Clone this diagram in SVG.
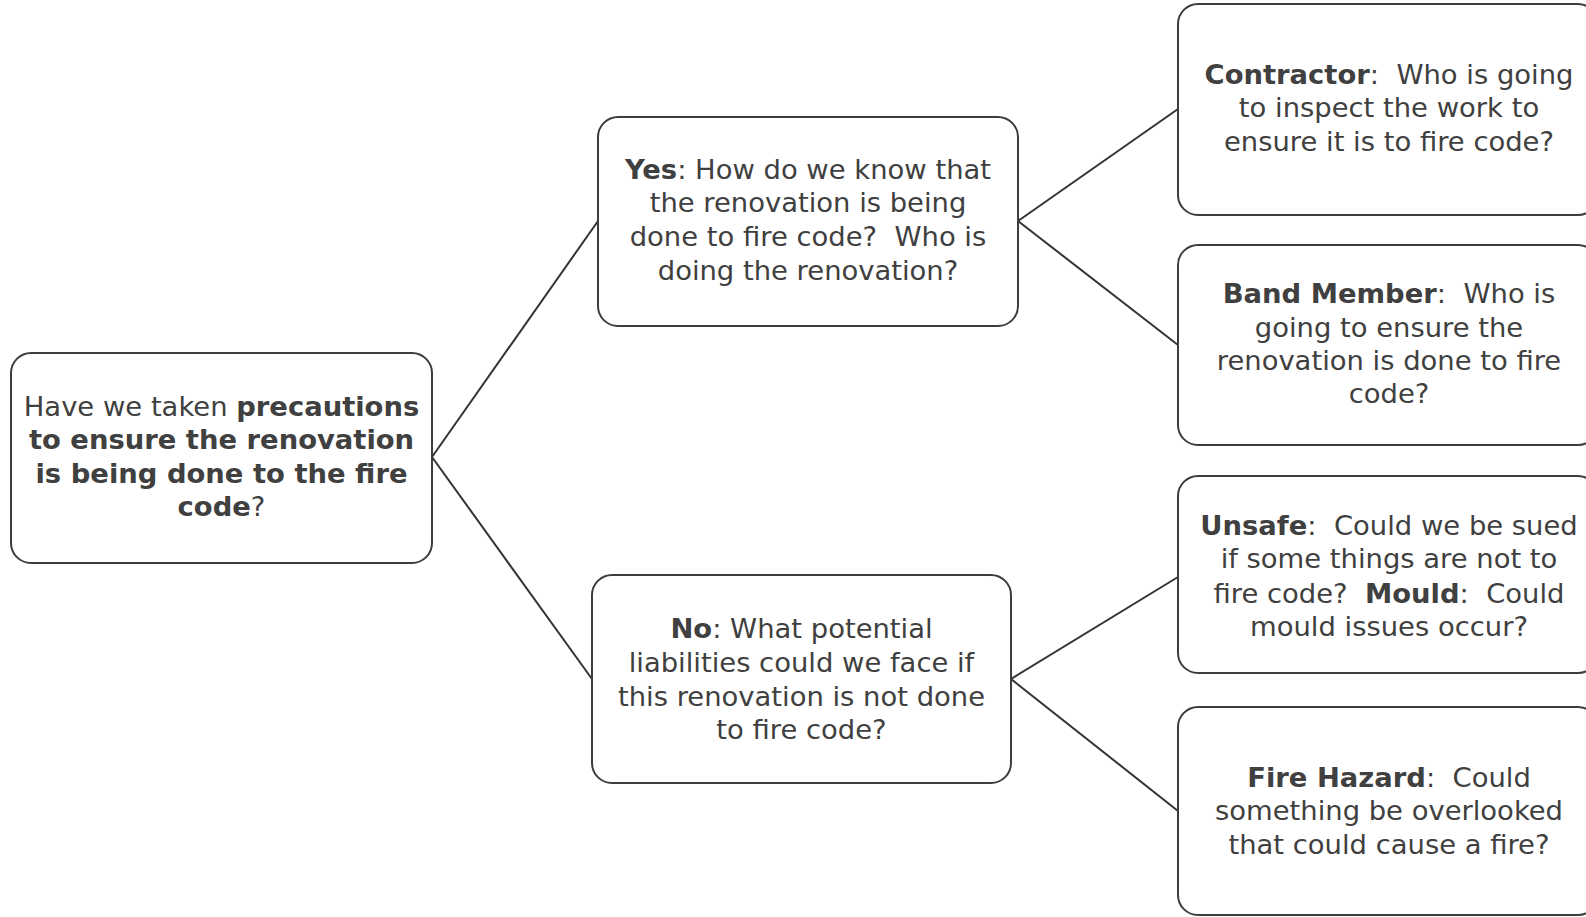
<svg xmlns="http://www.w3.org/2000/svg" width="1586" height="917" viewBox="0 0 1586 917">
<style>
.box{fill:#ffffff;stroke:#3d3d3d;stroke-width:2}
.t{font-family:"DejaVu Sans","Liberation Sans",sans-serif;font-size:27.4px;fill:#404040;text-anchor:middle}
.b{font-weight:bold}
.c{fill:none;stroke:#333333;stroke-width:2}
</style>
<rect width="1586" height="917" fill="#ffffff"/>
<g id="connectors">
<line class="c" x1="432" y1="457" x2="598" y2="221"/>
<line class="c" x1="432" y1="457" x2="592" y2="679"/>
<line class="c" x1="1018" y1="221" x2="1178" y2="109"/>
<line class="c" x1="1018" y1="221" x2="1178" y2="345"/>
<line class="c" x1="1011" y1="679" x2="1178" y2="577"/>
<line class="c" x1="1011" y1="679" x2="1178" y2="811"/>
</g>
<g id="root">
<rect class="box" x="11" y="353" width="421" height="210" rx="20"/>
<text class="t"><tspan x="221.5" y="416">Have we taken <tspan class="b">precautions</tspan></tspan><tspan class="b" x="221.5" y="449">to ensure the renovation</tspan><tspan class="b" x="221.5" y="483">is being done to the fire</tspan><tspan x="221.5" y="516"><tspan class="b">code</tspan>?</tspan></text>
</g>
<g id="yes">
<rect class="box" x="598" y="117" width="420" height="209" rx="20"/>
<text class="t"><tspan x="808" y="179"><tspan class="b">Yes</tspan>: How do we know that</tspan><tspan x="808" y="212">the renovation is being</tspan><tspan x="808" y="246">done to fire code?&#160; Who is</tspan><tspan x="808" y="280">doing the renovation?</tspan></text>
</g>
<g id="no">
<rect class="box" x="592" y="575" width="419" height="208" rx="20"/>
<text class="t"><tspan x="801.5" y="638"><tspan class="b">No</tspan>: What potential</tspan><tspan x="801.5" y="672">liabilities could we face if</tspan><tspan x="801.5" y="706">this renovation is not done</tspan><tspan x="801.5" y="739">to fire code?</tspan></text>
</g>
<g id="contractor">
<rect class="box" x="1178" y="4" width="420" height="211" rx="20"/>
<text class="t"><tspan x="1389" y="84"><tspan class="b">Contractor</tspan>:&#160; Who is going</tspan><tspan x="1389" y="117">to inspect the work to</tspan><tspan x="1389" y="151">ensure it is to fire code?</tspan></text>
</g>
<g id="band">
<rect class="box" x="1178" y="245" width="420" height="200" rx="20"/>
<text class="t"><tspan x="1389" y="303"><tspan class="b">Band Member</tspan>:&#160; Who is</tspan><tspan x="1389" y="337">going to ensure the</tspan><tspan x="1389" y="370">renovation is done to fire</tspan><tspan x="1389" y="403">code?</tspan></text>
</g>
<g id="unsafe">
<rect class="box" x="1178" y="476" width="420" height="197" rx="20"/>
<text class="t"><tspan x="1389" y="535"><tspan class="b">Unsafe</tspan>:&#160; Could we be sued</tspan><tspan x="1389" y="568">if some things are not to</tspan><tspan x="1389" y="603">fire code?&#160; <tspan class="b">Mould</tspan>:&#160; Could</tspan><tspan x="1389" y="636">mould issues occur?</tspan></text>
</g>
<g id="fire">
<rect class="box" x="1178" y="707" width="420" height="208" rx="20"/>
<text class="t"><tspan x="1389" y="787"><tspan class="b">Fire Hazard</tspan>:&#160; Could</tspan><tspan x="1389" y="820">something be overlooked</tspan><tspan x="1389" y="854">that could cause a fire?</tspan></text>
</g>
</svg>
